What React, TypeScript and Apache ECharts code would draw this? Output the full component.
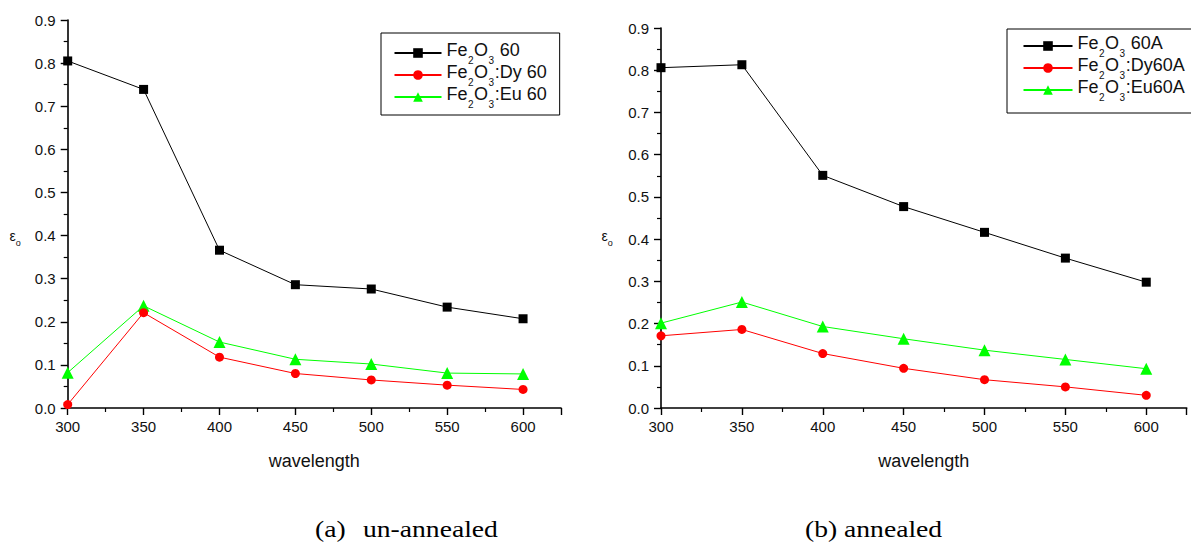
import React, { useEffect, useRef } from "react";
import * as echarts from "echarts";

const wavelengths = [300, 350, 400, 450, 500, 550, 600];

const unannealedFe2O3 = [0.805, 0.739, 0.366, 0.286, 0.276, 0.234, 0.207];
const unannealedDy = [0.008, 0.221, 0.118, 0.08, 0.065, 0.053, 0.043];
const unannealedEu = [0.082, 0.237, 0.153, 0.113, 0.102, 0.081, 0.079];

const annealedFe2O3 = [0.806, 0.813, 0.551, 0.477, 0.416, 0.355, 0.298];
const annealedDy = [0.171, 0.186, 0.129, 0.094, 0.067, 0.05, 0.03];
const annealedEu = [0.201, 0.251, 0.193, 0.164, 0.137, 0.115, 0.093];

const leftNames = ["Fe2O3 60", "Fe2O3:Dy 60", "Fe2O3:Eu 60"];
const rightNames = ["Fe2O3 60A", "Fe2O3:Dy60A", "Fe2O3:Eu60A"];
const captionA = ["(a)", "un-annealed"];
const captionB = "(b) annealed";
const xAxisName = "wavelength";

const FONT = "Liberation Sans";
const TXT = "#111";

function pairs(vals: number[]) {
  return wavelengths.map((w, i) => [w, vals[i]]);
}

function richName(name: string) {
  return name.replace("Fe2O3", "{n|Fe}{s|2}{n|O}{s|3}{n|") + "}";
}

const legendRich = {
  n: { fontSize: 18, fontFamily: FONT, color: TXT, lineHeight: 24, verticalAlign: "top" },
  s: {
    fontSize: 10,
    fontFamily: FONT,
    color: TXT,
    verticalAlign: "bottom",
    padding: [0, 0.5, 0, 0.5],
  },
};

function makeAxes(idx: number) {
  const xAxis = {
    type: "value",
    gridIndex: idx,
    min: 300,
    max: 625,
    interval: 50,
    name: xAxisName,
    nameLocation: "middle",
    nameGap: 44,
    nameTextStyle: { fontFamily: FONT, fontSize: 18, color: TXT },
    axisLine: { show: true, lineStyle: { color: "#000", width: 1.6 } },
    axisTick: { show: true, length: 7, lineStyle: { color: "#000", width: 1.4 } },
    minorTick: { show: true, splitNumber: 2, length: 4, lineStyle: { color: "#000", width: 1.2 } },
    splitLine: { show: false },
    axisLabel: {
      margin: 11,
      fontFamily: FONT,
      fontSize: 15,
      color: TXT,
      formatter: (v: number) => (v % 50 === 0 ? String(v) : ""),
    },
  };
  const yAxis = {
    type: "value",
    gridIndex: idx,
    min: 0,
    max: 0.9,
    interval: 0.1,
    axisLine: { show: true, lineStyle: { color: "#000", width: 1.6 } },
    axisTick: { show: true, length: 7, lineStyle: { color: "#000", width: 1.4 } },
    minorTick: { show: true, splitNumber: 2, length: 4, lineStyle: { color: "#000", width: 1.2 } },
    splitLine: { show: false },
    axisLabel: {
      margin: 12,
      fontFamily: FONT,
      fontSize: 15,
      color: TXT,
      formatter: (v: number) => v.toFixed(1),
    },
  };
  return { xAxis, yAxis };
}

function makeSeries(idx: number, names: string[], sets: number[][]) {
  const colors = ["#000000", "#ff0000", "#00ff00"];
  const symbols = ["rect", "circle", "triangle"];
  const sizes = [9, 9, 12];
  return sets.map((vals, i) => ({
    type: "line",
    name: names[i],
    xAxisIndex: idx,
    yAxisIndex: idx,
    data: pairs(vals),
    symbol: symbols[i],
    symbolSize: sizes[i],
    showSymbol: true,
    color: colors[i],
    itemStyle: { color: colors[i] },
    lineStyle: { color: colors[i], width: 1 },
    z: 3 - i,
  }));
}

function makeLegend(names: string[], left: number, top: number, iconW: number, pad: number[]) {
  return {
    show: true,
    orient: "vertical",
    left,
    top,
    data: names,
    itemWidth: iconW,
    itemHeight: 12,
    itemGap: -2,
    padding: pad,
    borderColor: "#000",
    borderWidth: 1,
    borderRadius: 0,
    backgroundColor: "#fff",
    selectedMode: false,
    formatter: (n: string) => richName(n),
    textStyle: { rich: legendRich, fontFamily: FONT, fontSize: 18, color: TXT },
  };
}

function epsLabel(x: number, y: number) {
  return {
    type: "text",
    x,
    y,
    style: {
      text: "{e|ε}{o|o}",
      verticalAlign: "middle",
      rich: {
        e: { fontFamily: FONT, fontSize: 14, fill: TXT, color: TXT, lineHeight: 19, verticalAlign: "top" },
        o: { fontFamily: FONT, fontSize: 9, fill: TXT, color: TXT, verticalAlign: "bottom" },
      },
    },
  };
}

function caption(text: string, x: number) {
  return {
    type: "text",
    x,
    y: 529,
    scaleX: 1.15,
    style: {
      text,
      align: "left",
      verticalAlign: "middle",
      fontFamily: "Liberation Serif",
      fontSize: 24,
      fill: "#000",
    },
  };
}

export default function App() {
  const ref = useRef<HTMLDivElement>(null);
  useEffect(() => {
    if (!ref.current) return;
    const chart = echarts.init(ref.current, null, { renderer: "svg" });
    const a0 = makeAxes(0);
    const a1 = makeAxes(1);
    chart.setOption({
      animation: false,
      backgroundColor: "#fff",
      grid: [
        { left: 67.7, top: 20, width: 493.3, height: 388 },
        { left: 661, top: 28, width: 525.7, height: 380 },
      ],
      xAxis: [a0.xAxis, a1.xAxis],
      yAxis: [a0.yAxis, a1.yAxis],
      legend: [
        makeLegend(leftNames, 381, 33, 47, [8, 13, 6, 12.5]),
        makeLegend(rightNames, 1007, 29, 49, [5, 40, 11, 15.5]),
      ],
      series: [
        ...makeSeries(0, leftNames, [unannealedFe2O3, unannealedDy, unannealedEu]),
        ...makeSeries(1, rightNames, [annealedFe2O3, annealedDy, annealedEu]),
      ],
      graphic: [
        epsLabel(9.5, 238),
        epsLabel(601.5, 238),
        caption(captionA[0], 315),
        caption(captionA[1], 363),
        caption(captionB, 805),
      ],
    });
    return () => chart.dispose();
  }, []);
  return (
    <div
      ref={ref}
      style={{ position: "fixed", left: 0, top: 0, width: 1191, height: 542, background: "#fff" }}
    />
  );
}
